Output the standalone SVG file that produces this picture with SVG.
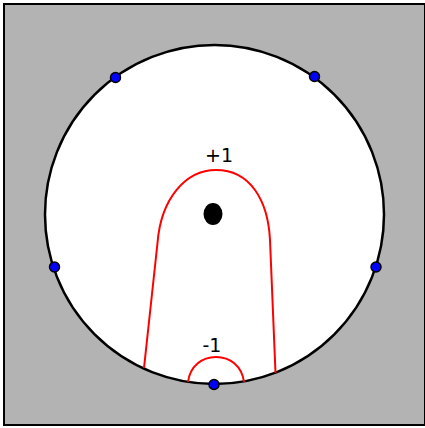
<svg xmlns="http://www.w3.org/2000/svg" width="425" height="428" viewBox="0 0 425 428">
<style>
.dot{fill:#0000ff;stroke:#000;stroke-width:1.5}
.red{fill:none;stroke:#ff0000;stroke-width:2}
text{font-family:"DejaVu Sans",sans-serif;font-size:19px;fill:#000;text-anchor:middle}
</style>
<rect x="4" y="4" width="421" height="421" fill="#b3b3b3" stroke="#000" stroke-width="2"/>
<g id="disk"><circle cx="214.5" cy="214.5" r="169.5" fill="#fff" stroke="#000" stroke-width="2.5"/></g>
<g id="connectors">
<path class="red" d="M144,368 L157.5,243 C161,198 186,170 216,170 C250,170 268,200 270,240 L275.5,373"/>
<path class="red" d="M188,382 C190,366 202,357 216,357 C230,357 242,366 244,382"/>
</g>
<g id="center"><ellipse cx="213" cy="214" rx="9.5" ry="11" fill="#000"/></g>
<g id="p1"><circle class="dot" cx="115.5" cy="77.5" r="5"/></g>
<g id="p2"><circle class="dot" cx="314.5" cy="76.5" r="5"/></g>
<g id="p3"><circle class="dot" cx="54.5" cy="267" r="5"/></g>
<g id="p4"><circle class="dot" cx="376" cy="267" r="5"/></g>
<g id="p5"><circle class="dot" cx="214" cy="384.5" r="5"/></g>
<g id="lplus"><text x="219" y="162">+1</text></g>
<g id="lminus"><text x="212" y="352">-1</text></g>
</svg>
